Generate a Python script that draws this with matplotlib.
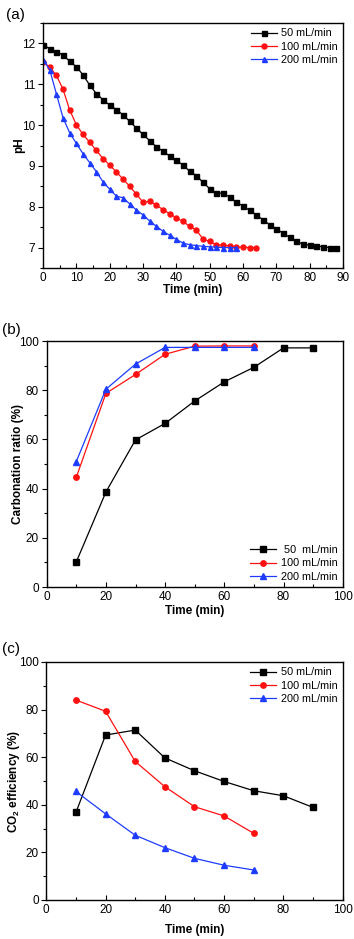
import matplotlib
matplotlib.use("Agg")
import matplotlib.pyplot as plt
from matplotlib.ticker import MultipleLocator

plt.rcParams["font.family"] = ["Liberation Sans", "DejaVu Sans"]
plt.rcParams["mathtext.fontset"] = "custom"
plt.rcParams["mathtext.rm"] = "Liberation Sans"
plt.rcParams["mathtext.bf"] = "Liberation Sans:bold"

labels = ["50 mL/min", "100 mL/min", "200 mL/min"]
colors = ["#000000", "#FF1010", "#1E3CFF"]
markers = ["s", "o", "^"]

# (a) pH vs time, readings every 2 min
t_50 = list(range(0, 90, 2))
ph_50 = [11.97, 11.87, 11.79, 11.72, 11.56, 11.43, 11.23, 10.98, 10.77, 10.62,
         10.49, 10.38, 10.25, 10.09, 9.93, 9.77, 9.62, 9.47, 9.36, 9.24,
         9.14, 9.02, 8.87, 8.76, 8.60, 8.44, 8.34, 8.33, 8.24, 8.11,
         8.02, 7.91, 7.80, 7.68, 7.56, 7.46, 7.35, 7.25, 7.16, 7.08,
         7.06, 7.04, 7.02, 7.00, 7.00]
t_100 = list(range(0, 66, 2))
ph_100 = [11.55, 11.42, 11.22, 10.88, 10.37, 10.01, 9.77, 9.58, 9.38, 9.18,
          9.02, 8.85, 8.68, 8.50, 8.31, 8.11, 8.13, 8.04, 7.93, 7.83,
          7.73, 7.64, 7.52, 7.43, 7.21, 7.15, 7.07, 7.06, 7.04, 7.02,
          7.01, 7.00, 7.00]
t_200 = list(range(0, 60, 2))
ph_200 = [11.60, 11.36, 10.77, 10.18, 9.81, 9.55, 9.30, 9.08, 8.86, 8.61,
          8.43, 8.26, 8.22, 8.07, 7.92, 7.80, 7.65, 7.52, 7.40, 7.30,
          7.20, 7.11, 7.07, 7.05, 7.03, 7.02, 7.01, 7.00, 7.00, 7.00]

# (b) carbonation ratio and (c) CO2 efficiency, every 10 min
tb_50 = [10, 20, 30, 40, 50, 60, 70, 80, 90]
tb_fast = [10, 20, 30, 40, 50, 60, 70]
carb_50 = [10.2, 38.6, 59.8, 66.5, 75.6, 83.4, 89.3, 97.2, 97.2]
carb_100 = [44.6, 78.7, 86.4, 94.6, 97.9, 98.0, 98.0]
carb_200 = [51.0, 80.4, 90.6, 97.4, 97.4, 97.4, 97.4]
eff_50 = [36.8, 69.3, 71.4, 59.7, 54.3, 49.8, 45.9, 43.8, 38.9]
eff_100 = [84.0, 79.3, 58.2, 47.6, 39.2, 35.3, 28.0]
eff_200 = [45.6, 36.2, 27.2, 22.0, 17.5, 14.6, 12.6]

W, H = 354, 939
fig = plt.figure(figsize=(W / 100, H / 100), dpi=100)

TICK_FS = 8.5
LABEL_FS = 8.5
LEG_FS = 7.8


def add_axes(left, top, right, bottom):
    return fig.add_axes([left / W, 1 - bottom / H, (right - left) / W, (bottom - top) / H])


def style(ax, xpad=1):
    for s in ax.spines.values():
        s.set_linewidth(1.0)
    ax.tick_params(axis="x", which="both", direction="in", labelsize=TICK_FS, pad=3)
    ax.tick_params(axis="y", which="both", direction="out", labelsize=TICK_FS, pad=2)
    ax.tick_params(which="major", length=3.5, width=0.8)
    ax.tick_params(which="minor", length=2, width=0.8)
    ax.set_xlabel("Time (min)", fontsize=LABEL_FS, fontweight="bold", labelpad=xpad)


ax_a = add_axes(43, 23, 343, 268)
ax_b = add_axes(46.7, 341, 342.7, 587)
ax_c = add_axes(46.3, 662, 342.7, 900)

series_a = [(t_50, ph_50), (t_100, ph_100), (t_200, ph_200)]
for (t, y), lab, c, m in zip(series_a, labels, colors, markers):
    ax_a.plot(t, y, color=c, marker=m, markersize=3.6, linewidth=0.9, label=lab)
ax_a.set_xlim(0, 90)
ax_a.set_ylim(6.5, 12.5)
ax_a.xaxis.set_major_locator(MultipleLocator(10))
ax_a.xaxis.set_minor_locator(MultipleLocator(5))
ax_a.yaxis.set_major_locator(MultipleLocator(1))
ax_a.yaxis.set_minor_locator(MultipleLocator(0.5))
ax_a.set_ylabel("pH", fontsize=LABEL_FS, fontweight="bold")
ax_a.yaxis.set_label_coords(-0.06, 0.5)
style(ax_a, xpad=0)
ax_a.legend(loc="upper right", frameon=False, fontsize=LEG_FS, handlelength=2.4,
            handletextpad=0.4, labelspacing=0.3, borderaxespad=0.1)

series_b = [(tb_50, carb_50), (tb_fast, carb_100), (tb_fast, carb_200)]
for (t, y), lab, c, m in zip(series_b, [" 50  mL/min", "100 mL/min", "200 mL/min"], colors, markers):
    ax_b.plot(t, y, color=c, marker=m, markersize=3.9, linewidth=0.9, label=lab)
ax_b.set_xlim(0, 100)
ax_b.set_ylim(0, 100)
ax_b.xaxis.set_major_locator(MultipleLocator(20))
ax_b.xaxis.set_minor_locator(MultipleLocator(10))
ax_b.yaxis.set_major_locator(MultipleLocator(20))
ax_b.yaxis.set_minor_locator(MultipleLocator(10))
ax_b.set_ylabel("Carbonation ratio (%)", fontsize=LABEL_FS, fontweight="bold")
ax_b.yaxis.set_label_coords(-0.078, 0.5)
style(ax_b, xpad=1)
ax_b.legend(loc="lower right", frameon=False, fontsize=LEG_FS, handlelength=2.4,
            handletextpad=0.4, labelspacing=0.3, borderaxespad=0.1)

series_c = [(tb_50, eff_50), (tb_fast, eff_100), (tb_fast, eff_200)]
for (t, y), lab, c, m in zip(series_c, labels, colors, markers):
    ax_c.plot(t, y, color=c, marker=m, markersize=3.9, linewidth=0.9, label=lab)
ax_c.set_xlim(0, 100)
ax_c.set_ylim(0, 100)
ax_c.xaxis.set_major_locator(MultipleLocator(20))
ax_c.xaxis.set_minor_locator(MultipleLocator(10))
ax_c.yaxis.set_major_locator(MultipleLocator(20))
ax_c.yaxis.set_minor_locator(MultipleLocator(10))
ax_c.set_ylabel(r"CO$_\mathbf{2}$ efficiency (%)", fontsize=LABEL_FS, fontweight="bold")
ax_c.yaxis.set_label_coords(-0.082, 0.5)
style(ax_c, xpad=6)
ax_c.legend(loc="upper right", frameon=False, fontsize=LEG_FS, handlelength=2.4,
            handletextpad=0.4, labelspacing=0.3, borderaxespad=0.1)

fig.text(6 / W, 1 - 15 / H, "(a)", fontsize=11, va="center", ha="left")
fig.text(2 / W, 1 - 330 / H, "(b)", fontsize=11, va="center", ha="left")
fig.text(2 / W, 1 - 649 / H, "(c)", fontsize=11, va="center", ha="left")

fig.savefig("out.png", dpi=100, facecolor="white")
